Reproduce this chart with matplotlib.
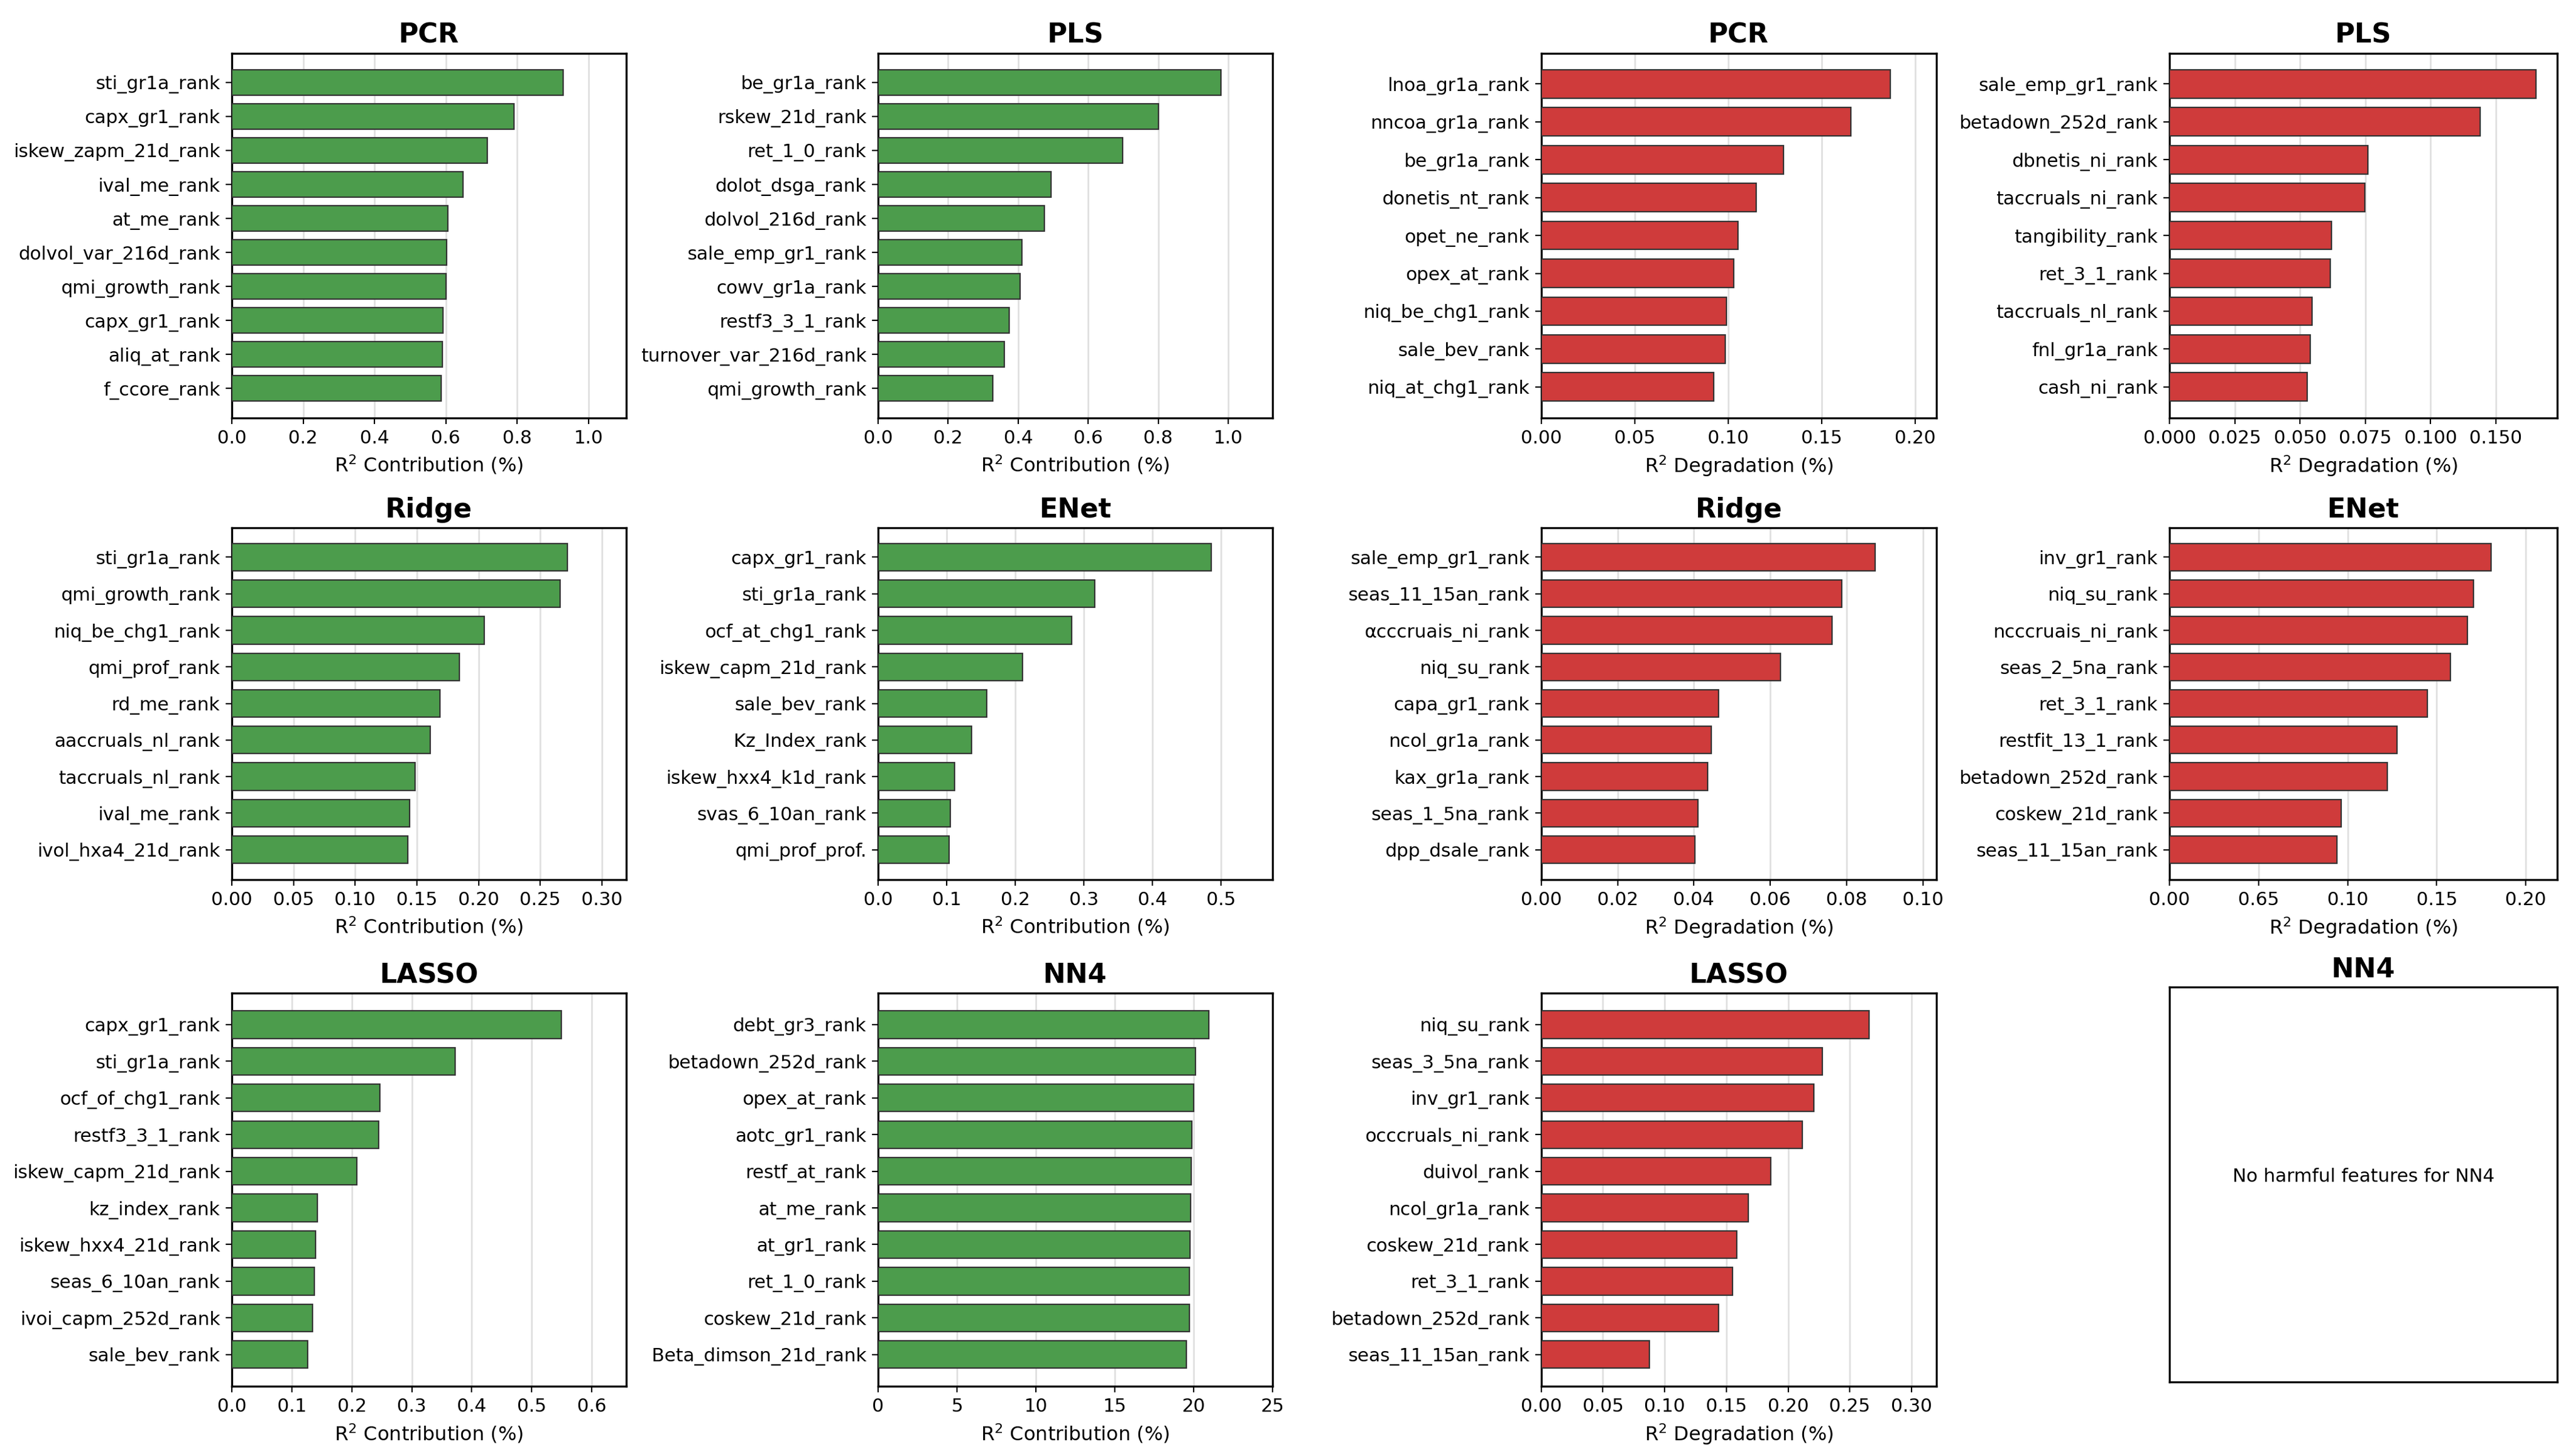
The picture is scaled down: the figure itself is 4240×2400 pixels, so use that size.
import matplotlib
matplotlib.use("Agg")
import matplotlib.pyplot as plt
import numpy as np

plt.rcParams['font.family'] = ['DejaVu Sans']

# ---- data: positive contributions (green) ----
pcr_pos_names = ['sti_gr1a_rank', 'capx_gr1_rank', 'iskew_zapm_21d_rank', 'ival_me_rank',
                 'at_me_rank', 'dolvol_var_216d_rank', 'qmi_growth_rank', 'capx_gr1_rank',
                 'aliq_at_rank', 'f_ccore_rank']
pcr_pos_vals = [0.929, 0.791, 0.716, 0.649, 0.605, 0.603, 0.600, 0.592, 0.590, 0.587]

pls_pos_names = ['be_gr1a_rank', 'rskew_21d_rank', 'ret_1_0_rank', 'dolot_dsga_rank',
                 'dolvol_216d_rank', 'sale_emp_gr1_rank', 'cowv_gr1a_rank', 'restf3_3_1_rank',
                 'turnover_var_216d_rank', 'qmi_growth_rank']
pls_pos_vals = [0.980, 0.800, 0.699, 0.494, 0.475, 0.410, 0.405, 0.374, 0.361, 0.328]

ridge_pos_names = ['sti_gr1a_rank', 'qmi_growth_rank', 'niq_be_chg1_rank', 'qmi_prof_rank',
                   'rd_me_rank', 'aaccruals_nl_rank', 'taccruals_nl_rank', 'ival_me_rank',
                   'ivol_hxa4_21d_rank']
ridge_pos_vals = [0.272, 0.266, 0.2045, 0.1845, 0.1685, 0.161, 0.1485, 0.1442, 0.1425]

enet_pos_names = ['capx_gr1_rank', 'sti_gr1a_rank', 'ocf_at_chg1_rank', 'iskew_capm_21d_rank',
                  'sale_bev_rank', 'Kz_Index_rank', 'iskew_hxx4_k1d_rank', 'svas_6_10an_rank',
                  'qmi_prof_prof.']
enet_pos_vals = [0.486, 0.316, 0.282, 0.210, 0.158, 0.136, 0.111, 0.105, 0.103]

lasso_pos_names = ['capx_gr1_rank', 'sti_gr1a_rank', 'ocf_of_chg1_rank', 'restf3_3_1_rank',
                   'iskew_capm_21d_rank', 'kz_index_rank', 'iskew_hxx4_21d_rank',
                   'seas_6_10an_rank', 'ivoi_capm_252d_rank', 'sale_bev_rank']
lasso_pos_vals = [0.549, 0.372, 0.247, 0.245, 0.208, 0.1425, 0.140, 0.1377, 0.1342, 0.1267]

nn4_pos_names = ['debt_gr3_rank', 'betadown_252d_rank', 'opex_at_rank', 'aotc_gr1_rank',
                 'restf_at_rank', 'at_me_rank', 'at_gr1_rank', 'ret_1_0_rank',
                 'coskew_21d_rank', 'Beta_dimson_21d_rank']
nn4_pos_vals = [20.97, 20.13, 20.0, 19.87, 19.84, 19.82, 19.76, 19.74, 19.71, 19.53]

# ---- data: harmful features (red) ----
pcr_neg_names = ['lnoa_gr1a_rank', 'nncoa_gr1a_rank', 'be_gr1a_rank', 'donetis_nt_rank',
                 'opet_ne_rank', 'opex_at_rank', 'niq_be_chg1_rank', 'sale_bev_rank',
                 'niq_at_chg1_rank']
pcr_neg_vals = [0.1866, 0.1657, 0.1295, 0.115, 0.1054, 0.103, 0.099, 0.0986, 0.0924]

pls_neg_names = ['sale_emp_gr1_rank', 'betadown_252d_rank', 'dbnetis_ni_rank',
                 'taccruals_ni_rank', 'tangibility_rank', 'ret_3_1_rank', 'taccruals_nl_rank',
                 'fnl_gr1a_rank', 'cash_ni_rank']
pls_neg_vals = [0.1404, 0.119, 0.0759, 0.0748, 0.0621, 0.0616, 0.0547, 0.0539, 0.0528]

ridge_neg_names = ['sale_emp_gr1_rank', 'seas_11_15an_rank', 'αcccruais_ni_rank', 'niq_su_rank',
                   'capa_gr1_rank', 'ncol_gr1a_rank', 'kax_gr1a_rank', 'seas_1_5na_rank',
                   'dpp_dsale_rank']
ridge_neg_vals = [0.0875, 0.0788, 0.0762, 0.0627, 0.0465, 0.0445, 0.0436, 0.041, 0.0402]

enet_neg_names = ['inv_gr1_rank', 'niq_su_rank', 'ncccruais_ni_rank', 'seas_2_5na_rank',
                  'ret_3_1_rank', 'restfit_13_1_rank', 'betadown_252d_rank', 'coskew_21d_rank',
                  'seas_11_15an_rank']
enet_neg_vals = [0.1804, 0.1707, 0.1673, 0.1578, 0.1447, 0.1276, 0.1223, 0.0965, 0.094]

lasso_neg_names = ['niq_su_rank', 'seas_3_5na_rank', 'inv_gr1_rank', 'occcruals_ni_rank',
                   'duivol_rank', 'ncol_gr1a_rank', 'coskew_21d_rank', 'ret_3_1_rank',
                   'betadown_252d_rank', 'seas_11_15an_rank']
lasso_neg_vals = [0.2657, 0.2278, 0.2208, 0.2113, 0.1859, 0.1678, 0.1582, 0.1549, 0.1437, 0.0877]

GREEN = '#4c9c4c'
RED = '#cf3b3b'

fig = plt.figure(figsize=(21.2, 12), dpi=200)

col_left = [0.0901, 0.3413, 0.5990, 0.8432]
col_w = [0.1533, 0.1533, 0.1535, 0.1507]
rows = [(0.7131, 0.2504), (0.3960, 0.2417), (0.0480, 0.2700)]


def panel(r, c, title, names, vals, color, xlabel, xmax, ticks=None, ticklabels=None):
    b, h = rows[r]
    ax = fig.add_axes([col_left[c], b, col_w[c], h])
    y = np.arange(len(names))
    ax.barh(y, vals, height=0.75, color=color, edgecolor='#333333', linewidth=0.8, zorder=3)
    ax.set_yticks(y)
    ax.set_yticklabels(names, fontsize=11)
    ax.invert_yaxis()
    ax.set_xlim(0, xmax)
    if ticks is not None:
        ax.set_xticks(ticks)
        ax.set_xticklabels(ticklabels)
    ax.tick_params(axis='x', labelsize=11)
    ax.set_xlabel(xlabel, fontsize=11.5)
    ax.set_title(title, fontsize=16, fontweight='bold')
    ax.grid(axis='x', color='#cccccc', alpha=0.6, linewidth=1)
    ax.set_axisbelow(True)
    for s in ax.spines.values():
        s.set_linewidth(1.2)
    return ax


contrib = 'R$^2$ Contribution (%)'
degrad = 'R$^2$ Degradation (%)'

panel(0, 0, 'PCR', pcr_pos_names, pcr_pos_vals, GREEN, contrib, 1.106)
panel(0, 1, 'PLS', pls_pos_names, pls_pos_vals, GREEN, contrib, 1.127)
panel(0, 2, 'PCR', pcr_neg_names, pcr_neg_vals, RED, degrad, 0.2113)
panel(0, 3, 'PLS', pls_neg_names, pls_neg_vals, RED, degrad, 0.1486,
      ticks=[0, 0.025, 0.05, 0.075, 0.1, 0.125],
      ticklabels=['0.000', '0.025', '0.050', '0.075', '0.100', '0.150'])

panel(1, 0, 'Ridge', ridge_pos_names, ridge_pos_vals, GREEN, contrib, 0.3197)
panel(1, 1, 'ENet', enet_pos_names, enet_pos_vals, GREEN, contrib, 0.575)
panel(1, 2, 'Ridge', ridge_neg_names, ridge_neg_vals, RED, degrad, 0.1035)
panel(1, 3, 'ENet', enet_neg_names, enet_neg_vals, RED, degrad, 0.2177,
      ticks=[0, 0.05, 0.1, 0.15, 0.2],
      ticklabels=['0.00', '0.65', '0.10', '0.15', '0.20'])

panel(2, 0, 'LASSO', lasso_pos_names, lasso_pos_vals, GREEN, contrib, 0.6575)
panel(2, 1, 'NN4', nn4_pos_names, nn4_pos_vals, GREEN, contrib, 25)
panel(2, 2, 'LASSO', lasso_neg_names, lasso_neg_vals, RED, degrad, 0.320)

# empty NN4 panel
ax = fig.add_axes([col_left[3], 0.0508, col_w[3], 0.2712])
ax.text(0.5, 0.52, 'No harmful features for NN4', ha='center', va='center',
        fontsize=11, transform=ax.transAxes)
ax.set_xticks([])
ax.set_yticks([])
ax.set_title('NN4', fontsize=16, fontweight='bold')
for s in ax.spines.values():
    s.set_linewidth(1.2)

fig.savefig('out.png', dpi=200, facecolor='white')
